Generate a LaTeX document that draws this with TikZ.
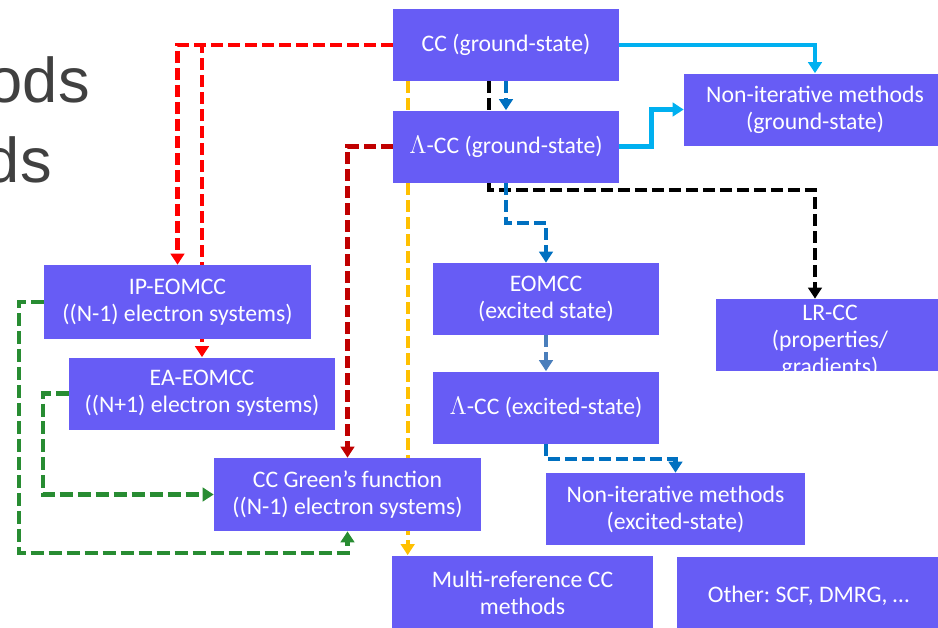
\documentclass[tikz,border=0pt]{standalone}
\usepackage{fontspec}
\setmainfont{Carlito}
\newfontfamily\titlefont{Liberation Sans}
\usepackage{xcolor}
\usepackage{tikz}
\usetikzlibrary{
        arrows.meta,
        backgrounds
    }
\definecolor{boxblue}{RGB}{103,92,245}
\definecolor{titlegray}{RGB}{64,64,64}
\definecolor{redlink}{RGB}{255,0,0}
\definecolor{darkredlink}{RGB}{192,0,0}
\definecolor{yellowlink}{RGB}{255,192,0}
\definecolor{bluelink}{RGB}{0,112,192}
\definecolor{steellink}{RGB}{74,126,187}
\definecolor{cyanlink}{RGB}{0,176,240}
\definecolor{greenlink}{RGB}{40,140,50}
\frenchspacing

\begin{document}
\begin{tikzpicture}[
x=0.02cm, y=-0.02cm,
box/.style={rectangle, fill=boxblue, text=white, align=center, minimum height=1.44cm, inner sep=0pt, font=\fontsize{13.5}{15.4}\selectfont},
boxlabel/.style={text=white, align=center, inner sep=0pt, font=\fontsize{13.5}{15.4}\selectfont},
title/.style={anchor=base east, inner sep=0pt, text=titlegray, font=\titlefont\fontsize{36}{40}\selectfont},
tip/.style={-{Triangle[length=0.22cm,width=0.27cm]}},
link/.style={line width=2.3pt, dash pattern=on 0.24cm off 0.1cm, tip},
solidlink/.style={line width=2.5pt, tip},
]
\useasboundingbox (0,0) rectangle (938,627);

\node (title1) [title] at (90,102) {ods};
\node (title2) [title] at (52,182) {ds};

\node (ccgs) [box, minimum width=4.52cm] at (506,45) {CC (ground-state)};
\node (lamgs) [box, minimum width=4.52cm] at (506,146.5) {$\Lambda$-CC (ground-state)};
\node (nigs) [box, minimum width=5.24cm] at (815,109.5) {Non-iterative methods\\(ground-state)};
\node (ip) [box, minimum width=5.34cm, minimum height=1.48cm] at (177.5,302) {IP-EOMCC\\((N-1) electron systems)};
\node (ea) [box, minimum width=5.32cm] at (202,393.5) {EA-EOMCC\\((N+1) electron systems)};
\node (eom) [box, minimum width=4.52cm] at (546,299) {EOMCC\\(excited state)};
\node (lrcc) [box, minimum width=4.56cm] at (830,335) {};
\node (lrcclabel) [boxlabel] at (830,341.5) {LR-CC\\(properties/\\gradients)};
\node (lamex) [box, minimum width=4.52cm] at (546,407.5) {$\Lambda$-CC (excited-state)};
\node (green) [box, minimum width=5.34cm, minimum height=1.46cm] at (347.5,494.5) {CC Green’s function\\((N-1) electron systems)};
\node (niex) [box, minimum width=5.18cm] at (675.5,509) {Non-iterative methods\\(excited-state)};
\node (mrcc) [box, minimum width=5.22cm, minimum height=1.5cm] at (522.5,593) {Multi-reference CC\\methods};
\node (other) [box, minimum width=5.26cm, minimum height=1.54cm] at (808.5,595.5) {Other: SCF, DMRG, \dots};

\begin{scope}[on background layer]
\draw[link, redlink] (ccgs.west) -| (ip.north);
\draw[link, redlink] (ccgs.west) -| (ea.north);
\draw[link, darkredlink] (lamgs.west) -| (green.north);
\draw[link, yellowlink] ([xshift=0.3cm]ccgs.south west) -- ([xshift=0.3cm]ccgs.south west |- mrcc.north);
\draw[link, black] ([xshift=-0.34cm]ccgs.south) -- ++(0,109) -| ([xshift=-0.3cm]lrcc.north);
\draw[link, bluelink] (ccgs.south) -- (lamgs.north);
\draw[link, bluelink] (lamgs.south) -- ++(0,40) -| (eom.north);
\draw[link, steellink] (eom.south) -- (lamex.north);
\draw[link, bluelink] (lamex.south) -- ++(0,15) -| (niex.north);
\draw[solidlink, cyanlink] (ccgs.east) -| (nigs.north);
\draw[solidlink, cyanlink] (lamgs.east) -- ++(32,0) |- (nigs.west);
\draw[link, greenlink, dash pattern=on 0.26cm off 0.1cm] (ip.west) -- ++(-25,0) -- ++(0,251) -| (green.south);
\draw[link, greenlink, dash pattern=on 0.26cm off 0.1cm] (ea.west) -- ++(-26,0) |- (green.west);
\end{scope}

\end{tikzpicture}
\end{document}
